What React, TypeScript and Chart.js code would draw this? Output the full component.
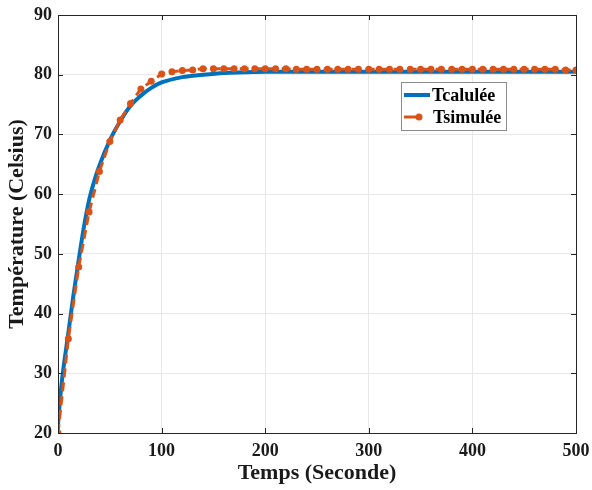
import React, { useEffect, useRef } from "react";
import { Chart, registerables } from "chart.js";

Chart.register(...registerables);

const calcTime = [0, 3, 5, 10, 15, 20, 25, 30, 35, 40, 50, 60, 70, 80, 90, 100, 120, 140, 160, 180, 200, 250, 300, 400, 500];
const calcTemp = [21.5, 27.5, 30.5, 36.8, 43.2, 49.0, 54.5, 59.0, 62.2, 64.8, 69.0, 72.2, 74.8, 76.5, 77.8, 78.7, 79.6, 80.0, 80.3, 80.4, 80.5, 80.5, 80.5, 80.5, 80.5];

const simTime = [0, 10, 20, 30, 40, 50, 60, 70, 80, 90, 100, 110, 120, 130, 140, 150, 160, 170, 180, 190, 200, 210, 220, 230, 240, 250, 260, 270, 280, 290, 300, 310, 320, 330, 340, 350, 360, 370, 380, 390, 400, 410, 420, 430, 440, 450, 460, 470, 480, 490, 500];
const simTemp = [20.0, 35.8, 47.8, 57.0, 63.8, 68.8, 72.4, 75.2, 77.6, 78.9, 80.1, 80.5, 80.7, 80.8, 81.0, 81.0, 81.0, 81.0, 81.0, 81.0, 81.0, 81.0, 81.0, 80.9, 80.9, 80.9, 80.9, 80.9, 80.9, 80.9, 80.9, 80.9, 80.9, 80.9, 80.9, 80.9, 80.9, 80.9, 80.9, 80.9, 80.9, 80.9, 80.9, 80.9, 80.9, 80.9, 80.9, 80.9, 80.9, 80.8, 80.8];

const xTicks = [0, 100, 200, 300, 400, 500];
const yTicks = [20, 30, 40, 50, 60, 70, 80, 90];

const labelCalc = "Tcalulée";
const labelSim = "Tsimulée";
const xTitle = "Temps (Seconde)";
const yTitle = "Température (Celsius)";

const BLUE = "#0072BD";
const ORANGE = "#D95319";
const FONT = "'Liberation Serif', 'Times New Roman', serif";

const boxPlugin = {
  id: "boxPlugin",
  afterDraw(chart: any) {
    const { ctx, chartArea } = chart;
    const { left, right, top, bottom } = chartArea;
    ctx.save();
    ctx.strokeStyle = "#262626";
    ctx.lineWidth = 1;
    ctx.strokeRect(left + 0.5, top + 0.5, right - left, bottom - top);
    const xs = chart.scales.x;
    const ys = chart.scales.y;
    ctx.beginPath();
    xTicks.forEach((v) => {
      const px = Math.round(xs.getPixelForValue(v)) + 0.5;
      ctx.moveTo(px, bottom);
      ctx.lineTo(px, bottom - 5);
      ctx.moveTo(px, top);
      ctx.lineTo(px, top + 5);
    });
    yTicks.forEach((v) => {
      const py = Math.round(ys.getPixelForValue(v)) + 0.5;
      ctx.moveTo(left, py);
      ctx.lineTo(left + 5, py);
      ctx.moveTo(right, py);
      ctx.lineTo(right - 5, py);
    });
    ctx.stroke();

    // legend
    const lx = 401, ly = 82, lw = 105, lh = 48;
    ctx.fillStyle = "#ffffff";
    ctx.fillRect(lx, ly, lw, lh);
    ctx.strokeStyle = "#8c8c8c";
    ctx.lineWidth = 1;
    ctx.strokeRect(lx + 0.5, ly + 0.5, lw, lh);
    ctx.font = "bold 18px " + FONT;
    ctx.textBaseline = "middle";
    ctx.fillStyle = "#000";
    ctx.strokeStyle = BLUE;
    ctx.lineWidth = 4;
    ctx.beginPath();
    ctx.moveTo(404, 95);
    ctx.lineTo(430, 95);
    ctx.stroke();
    ctx.fillText(labelCalc, 432, 96);
    ctx.strokeStyle = ORANGE;
    ctx.lineWidth = 3;
    ctx.beginPath();
    ctx.moveTo(404, 117);
    ctx.lineTo(421, 117);
    ctx.stroke();
    ctx.fillStyle = ORANGE;
    ctx.beginPath();
    ctx.arc(419, 117, 3.5, 0, Math.PI * 2);
    ctx.fill();
    ctx.fillStyle = "#000";
    ctx.fillText(labelSim, 433, 118);
    ctx.restore();
  },
};

export default function App() {
  const ref = useRef<HTMLCanvasElement | null>(null);
  useEffect(() => {
    if (!ref.current) return;
    const chart = new Chart(ref.current, {
      type: "line",
      data: {
        datasets: [
          {
            label: labelCalc,
            data: calcTime.map((t, i) => ({ x: t, y: calcTemp[i] })),
            borderColor: BLUE,
            backgroundColor: BLUE,
            borderWidth: 4,
            pointRadius: 0,
            cubicInterpolationMode: "monotone",
            order: 2,
          },
          {
            label: labelSim,
            data: simTime.map((t, i) => ({ x: t, y: simTemp[i] })),
            borderColor: ORANGE,
            backgroundColor: ORANGE,
            borderWidth: 3,
            borderDash: [9, 5],
            pointRadius: 3.5,
            pointBorderWidth: 0,
            pointBackgroundColor: ORANGE,
            tension: 0,
            order: 1,
          },
        ],
      },
      options: {
        animation: false,
        responsive: false,
        maintainAspectRatio: false,
        layout: { padding: { top: 15, right: 16, left: 0, bottom: 0 } },
        plugins: { legend: { display: false }, tooltip: { enabled: false } },
        scales: {
          x: {
            type: "linear",
            min: 0,
            max: 500,
            afterBuildTicks: (s: any) => {
              s.ticks = xTicks.map((v) => ({ value: v }));
            },
            afterFit: (s: any) => {
              s.height = 57;
              s.paddingLeft = 0;
              s.paddingRight = 0;
            },
            grid: { color: "#e8e8e8", drawTicks: false },
            border: { display: false },
            ticks: {
              color: "#1a1a1a",
              padding: 8,
              font: { family: FONT, size: 18, weight: "bold" },
            },
            title: {
              display: true,
              text: xTitle,
              color: "#1a1a1a",
              padding: { top: 0, bottom: 3 },
              font: { family: FONT, size: 22, weight: "bold" },
            },
          },
          y: {
            type: "linear",
            min: 20,
            max: 90,
            afterBuildTicks: (s: any) => {
              s.ticks = yTicks.map((v) => ({ value: v }));
            },
            afterFit: (s: any) => {
              s.width = 58;
              s.paddingTop = 0;
              s.paddingBottom = 0;
            },
            grid: { color: "#e8e8e8", drawTicks: false },
            border: { display: false },
            ticks: {
              color: "#1a1a1a",
              padding: 6,
              font: { family: FONT, size: 18, weight: "bold" },
            },
            title: {
              display: true,
              text: yTitle,
              color: "#1a1a1a",
              padding: { top: 4, bottom: 0 },
              font: { family: FONT, size: 22, weight: "bold" },
            },
          },
        },
      },
      plugins: [boxPlugin],
    });
    return () => chart.destroy();
  }, []);
  return (
    <div style={{ position: "fixed", left: 0, top: 0, width: 592, height: 490, background: "#fff" }}>
      <canvas ref={ref} width={592} height={490} style={{ width: 592, height: 490 }} />
    </div>
  );
}
